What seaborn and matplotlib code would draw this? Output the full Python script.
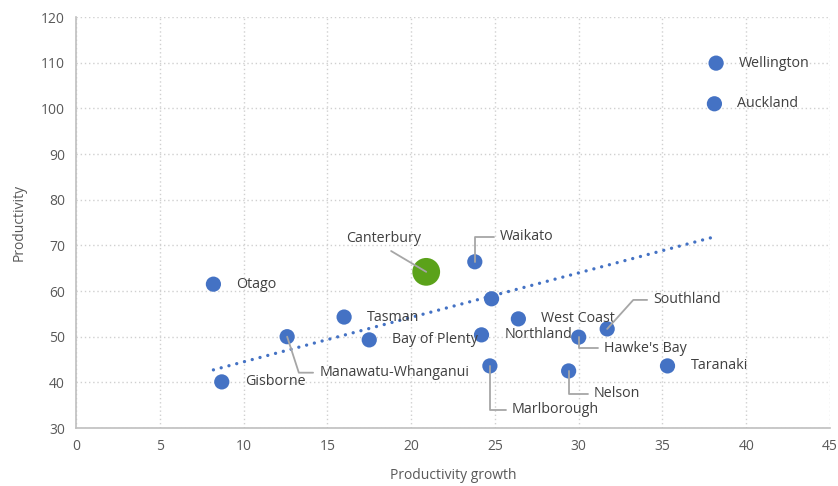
import numpy as np
import pandas as pd
import matplotlib
matplotlib.use("Agg")
import matplotlib.pyplot as plt
import seaborn as sns

# data
regions = ["Wellington", "Auckland", "Otago", "Canterbury", "Waikato", "",
           "Tasman", "Bay of Plenty", "Northland", "West Coast", "Hawke's Bay",
           "Southland", "Taranaki", "Nelson", "Marlborough",
           "Manawatu-Whanganui", "Gisborne"]
growth = [38.2, 38.1, 8.2, 20.9, 23.8, 24.8, 16.0, 17.5, 24.2, 26.4, 30.0,
          31.7, 35.3, 29.4, 24.7, 12.6, 8.7]
productivity = [109.9, 101.0, 61.5, 64.2, 66.4, 58.3, 54.3, 49.3, 50.4, 53.9,
                49.9, 51.7, 43.6, 42.5, 43.6, 50.0, 40.1]
highlight = "Canterbury"

df = pd.DataFrame({"region": regions, "growth": growth, "productivity": productivity})
df["group"] = np.where(df["region"] == highlight, "hl", "other")

# label placement: offset in pixels from the point, and leader line style
label_style = {
    "Canterbury": ((-43, 33), "center", "straight"),
    "Waikato": ((25, 25), "left", "angle,angleA=0,angleB=90,rad=0"),
    "Southland": ((46, 29), "left", "angle,angleA=0,angleB=48,rad=0"),
    "Hawke's Bay": ((25, -11), "left", "angle,angleA=0,angleB=90,rad=0"),
    "Nelson": ((25, -23), "left", "angle,angleA=0,angleB=90,rad=0"),
    "Marlborough": ((22, -44), "left", "angle,angleA=0,angleB=90,rad=0"),
    "Manawatu-Whanganui": ((32, -36), "left", "angle,angleA=0,angleB=-72,rad=0"),
}

sns.set_theme(style="white")
plt.rcParams["font.family"] = ["Open Sans", "DejaVu Sans"]

fig = plt.figure(figsize=(8.38, 4.86), dpi=100)
ax = fig.add_axes([0.0907, 0.1193, 0.8998, 0.8457])

blue = "#4472C4"
green = "#5BA21A"
txt = "#404040"

# trendline over all points
sns.regplot(data=df, x="growth", y="productivity", scatter=False, ci=None,
            ax=ax, truncate=True,
            line_kws=dict(color=blue, lw=2.4, linestyle=(0, (0.01, 2.4)),
                          dash_capstyle="round"))

sns.scatterplot(data=df, x="growth", y="productivity", hue="group",
                size="group", sizes={"other": 120, "hl": 400},
                palette={"other": blue, "hl": green}, legend=False,
                edgecolor="none", ax=ax, zorder=3)

for name, x, y in zip(regions, growth, productivity):
    if not name:
        continue
    if name in label_style:
        (dx, dy), ha, conn = label_style[name]
        if conn == "straight":
            arrow = dict(arrowstyle="-", color="#A6A6A6", lw=1.3,
                         shrinkA=2, shrinkB=0, relpos=(0.5, 0.0))
        else:
            arrow = dict(arrowstyle="-", color="#A6A6A6", lw=1.3,
                         connectionstyle=conn, shrinkA=2, shrinkB=0,
                         relpos=(0.0, 0.5))
        ax.annotate(name, (x, y), xytext=(dx, dy), textcoords="offset pixels",
                    ha=ha, va="center", fontsize=10.3, color=txt,
                    arrowprops=arrow, zorder=4)
    else:
        ax.annotate(name, (x, y), xytext=(23, 0), textcoords="offset pixels",
                    ha="left", va="center", fontsize=10.3, color=txt,
                    zorder=4)

ax.set_xlim(0, 45)
ax.set_ylim(30, 120)
ax.set_xticks(range(0, 46, 5))
ax.set_yticks(range(30, 121, 10))
ax.grid(True, color="#D0D0D0", linestyle=(0, (1, 2)), lw=1.0)
ax.set_axisbelow(True)
for s in ["top", "right"]:
    ax.spines[s].set_visible(False)
for s in ["left", "bottom"]:
    ax.spines[s].set_color("#BFBFBF")
    ax.spines[s].set_linewidth(1.2)
ax.tick_params(colors="#595959", labelsize=10, length=0, pad=8)
ax.set_xlabel("Productivity growth", fontsize=10, color="#595959", labelpad=10)
ax.set_ylabel("Productivity", fontsize=10, color="#595959", labelpad=10)

fig.savefig("out.png", dpi=100)
